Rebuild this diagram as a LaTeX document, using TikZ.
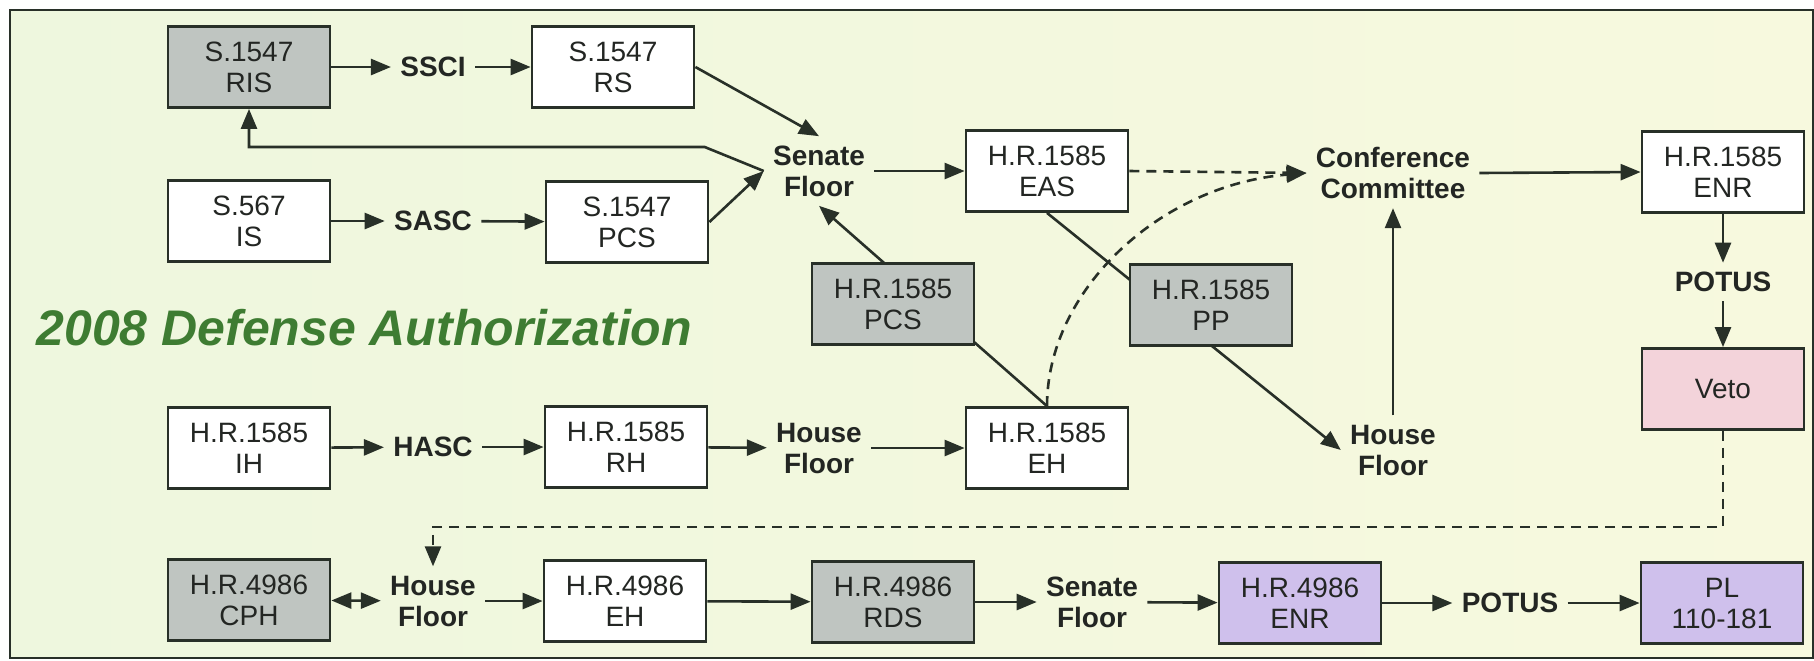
\documentclass[tikz,border=0pt]{standalone}
\usepackage{fontspec}
\setmainfont{Liberation Sans}
\usetikzlibrary{arrows.meta}
\definecolor{ink}{RGB}{40,48,40}
\definecolor{txt}{RGB}{35,38,35}
\definecolor{bgl}{RGB}{238,247,222}
\definecolor{bgr}{RGB}{247,249,222}
\definecolor{greybox}{RGB}{191,197,193}
\definecolor{purplebox}{RGB}{207,192,236}
\definecolor{pinkbox}{RGB}{243,211,218}
\definecolor{titlegreen}{RGB}{62,124,50}
\pgfdeclarelayer{back}
\pgfdeclarelayer{mid}
\pgfsetlayers{back,mid,main}
\begin{document}
\begin{tikzpicture}[x=0.5pt,y=-0.5pt,
  box/.style={draw=ink, line width=1.4pt, fill=white, minimum width=81pt, minimum height=40.5pt,
    inner sep=0pt, align=center, text=txt, font=\fontsize{14}{15.5}\selectfont},
  greyb/.style={box, fill=greybox},
  purpleb/.style={box, fill=purplebox},
  pinkb/.style={box, fill=pinkbox},
  lbl/.style={align=center, inner sep=4.5pt, text=txt, font=\bfseries\fontsize{14}{15.5}\selectfont},
  conn/.style={draw=ink, line width=1.3pt, -{Triangle[length=10pt,width=8pt]}},
  plain/.style={draw=ink, line width=1.3pt},
  dsh/.style={dash pattern=on 5pt off 3.5pt}]
\useasboundingbox (0,0) rectangle (1814,660);
\begin{pgfonlayer}{back}
  \shade[left color=bgl, right color=bgr] (10,10) rectangle (1813,658);
  \draw[draw=ink, line width=1.1pt] (10,10) rectangle (1813,658);
\end{pgfonlayer}

% boxes
\node[greyb] (RIS) at (249,67) {S.1547\\RIS};
\node[box] (RS) at (613,67) {S.1547\\RS};
\node[box] (IS) at (249,221) {S.567\\IS};
\node[box] (PCSs) at (627,222) {S.1547\\PCS};
\node[box] (EAS) at (1047,171) {H.R.1585\\EAS};
\node[box] (ENRt) at (1723,172) {H.R.1585\\ENR};
\node[greyb] (PCSh) at (893,304) {H.R.1585\\PCS};
\node[greyb] (PP) at (1211,305) {H.R.1585\\PP};
\node[box] (IH) at (249,448) {H.R.1585\\IH};
\node[box] (RH) at (626,447) {H.R.1585\\RH};
\node[box] (EH) at (1047,448) {H.R.1585\\EH};
\node[pinkb] (Veto) at (1723,389) {Veto};
\node[greyb] (CPH) at (249,600) {H.R.4986\\CPH};
\node[box] (EH2) at (625,601) {H.R.4986\\EH};
\node[greyb] (RDS) at (893,602) {H.R.4986\\RDS};
\node[purpleb] (ENR2) at (1300,603) {H.R.4986\\ENR};
\node[purpleb] (PL) at (1722,603) {PL\\110-181};

% labels
\node[lbl] (ssci) at (433,67) {SSCI};
\node[lbl] (sasc) at (433,221) {SASC};
\node[lbl] (hasc) at (433,447) {HASC};
\node[lbl] (sf) at (819,171) {Senate\\Floor};
\node[lbl] (hf1) at (819,448) {House\\Floor};
\node[lbl] (cc) at (1393,173) {Conference\\Committee};
\node[lbl] (hf2) at (1393,450) {House\\Floor};
\node[lbl] (potus1) at (1723,282) {POTUS};
\node[lbl] (hf3) at (433,601) {House\\Floor};
\node[lbl] (sf2) at (1092,602) {Senate\\Floor};
\node[lbl] (potus2) at (1510,603) {POTUS};

\node[anchor=west, inner sep=0pt, text=titlegreen, font=\bfseries\itshape\fontsize{25}{30}\selectfont] (title) at (36,328) {2008 Defense Authorization};

% lines passing under grey boxes
\begin{pgfonlayer}{mid}
  \draw[conn] (EH.north) -- (sf.south);
  \draw[conn] (EAS.south) -- (hf2.west);
\end{pgfonlayer}

% connectors
\draw[conn] (RIS) -- (ssci);
\draw[conn] (ssci) -- (RS);
\draw[conn] (IS) -- (sasc);
\draw[conn] (sasc) -- (PCSs);
\draw[conn] (RS.east) -- (sf.north);
\draw[conn] (PCSs.east) -- (sf.west);
\draw[conn] (sf.west) -- ++(-59,-24) -| (RIS.south);
\draw[conn] (sf.east) -- (EAS.west);
\draw[conn, dsh] (EAS.east) -- (cc.west);
\draw[conn, dsh] (EH.north) .. controls (1047,290) and (1160,185) .. (cc.west);
\draw[conn] (cc.east) -- (ENRt.west);
\draw[conn] (hf2.north) -- (cc.south);
\draw[conn] (ENRt.south) -- (potus1.north);
\draw[conn] (potus1.south) -- (Veto.north);
\draw[conn] (IH) -- (hasc);
\draw[conn] (hasc) -- (RH);
\draw[conn] (RH) -- (hf1);
\draw[conn] (hf1) -- (EH);
\draw[conn, dsh] (Veto.south) -- ++(0,96) -| (hf3.north);
\draw[conn, {Triangle[length=10pt,width=8pt]}-{Triangle[length=10pt,width=8pt]}] (CPH) -- (hf3);
\draw[conn] (hf3) -- (EH2);
\draw[conn] (EH2) -- (RDS);
\draw[conn] (RDS) -- (sf2);
\draw[conn] (sf2) -- (ENR2);
\draw[conn] (ENR2) -- (potus2);
\draw[conn] (potus2) -- (PL);
\end{tikzpicture}
\end{document}
